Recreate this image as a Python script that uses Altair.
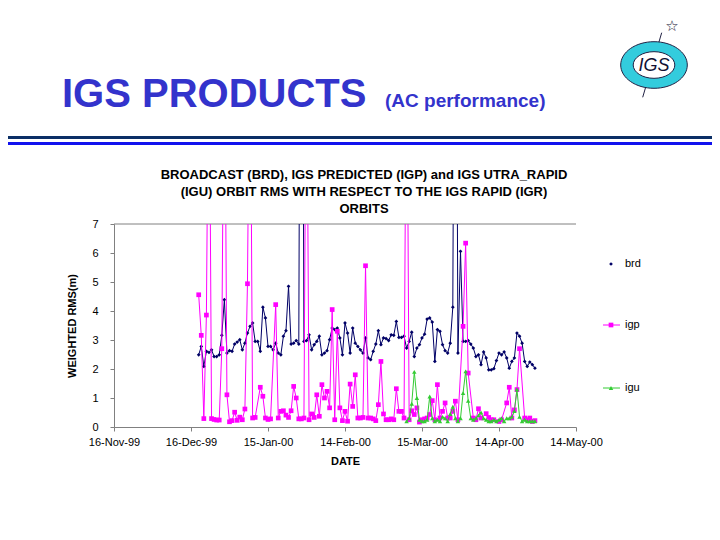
import altair as alt
import pandas as pd

START = "1999-11-16"
END = "2000-05-14"

# ---- data: day offsets from 16-Nov-99 and weighted RMS (m) ----
brd_day = list(range(33, 165))
brd_rms = [2.49, 2.78, 2.09, 2.61, 2.57, 2.66, 2.43, 2.43, 2.49, 3.16,
           4.39, 2.55, 2.63, 2.61, 2.86, 2.93, 3.01, 2.66, 2.89, 3.24,
           3.47, 3.59, 2.95, 2.95, 2.61, 4.13, 3.76, 2.78, 2.78, 2.66,
           2.89, 2.55, 2.49, 3.13, 3.32, 4.85, 2.86, 2.89, 2.98, 2.86,
           30.0, 2.95, 2.98, 3.18, 2.66, 2.84, 2.95, 3.13, 2.49, 2.55,
           2.63, 3.01, 3.41, 3.36, 3.41, 3.07, 2.49, 3.59, 3.24, 2.55,
           3.41, 2.89, 2.78, 2.66, 2.55, 3.07, 2.38, 2.32, 2.61, 2.86,
           3.32, 2.84, 3.07, 3.05, 2.98, 3.18, 3.16, 3.64, 3.09, 3.09,
           3.13, 2.72, 2.95, 3.27, 2.43, 2.72, 2.84, 3.07, 3.20, 3.72,
           3.76, 3.62, 2.26, 3.36, 3.30, 2.84, 2.63, 2.55, 2.89, 4.13,
           25.0, 2.55, 6.06, 2.95, 2.95, 2.98, 2.86, 2.72, 2.43, 2.49,
           2.15, 2.59, 2.38, 1.97, 1.97, 2.01, 2.29, 2.55, 2.49, 2.59,
           2.38, 2.03, 2.26, 2.38, 3.24, 3.13, 2.89, 2.26, 2.09, 2.24,
           2.15, 2.03]

igp_day = [33, 34, 35, 36, 37, 38, 39, 40, 41, 42, 43, 44, 45, 46, 47, 48, 49, 50,
           51, 52, 53, 54, 55, 57, 58, 59, 60, 61, 63, 64, 65, 66, 67, 68, 69, 70,
           71, 72, 73, 74, 75, 76, 77, 78, 79, 80, 81, 82, 83, 84, 85, 86, 87, 88,
           89, 90, 91, 92, 93, 94, 95, 96, 97, 98, 99, 100, 101, 102, 103, 104,
           105, 106, 107, 108, 109, 110, 111, 112, 113, 114, 115, 116, 117, 118,
           119, 120, 121, 122, 123, 124, 125, 126, 127, 128, 129, 130, 131, 132,
           133, 134, 136, 137, 138, 140, 141, 142, 143, 145, 146, 147, 148, 150,
           151, 153, 154, 155, 156, 157, 158, 160, 161, 162, 163, 164]
igp_rms = [4.56, 3.16, 0.29, 3.86, 15.0, 0.29, 0.26, 0.24, 0.24, 2.70, 15.0, 1.11,
           0.18, 0.22, 0.51, 0.23, 0.34, 0.25, 0.62, 4.94, 15.0, 0.31, 0.33, 1.37,
           1.06, 0.31, 0.26, 0.28, 4.22, 0.31, 0.54, 0.56, 0.41, 0.33, 0.56, 1.40,
           1.00, 0.28, 0.28, 0.31, 15.0, 0.25, 0.45, 0.33, 1.11, 0.37, 1.46, 1.00,
           1.23, 0.66, 4.05, 0.25, 3.30, 0.66, 0.22, 0.54, 0.20, 1.48, 0.71, 1.80,
           0.31, 0.31, 0.33, 5.56, 0.31, 0.31, 0.28, 0.22, 0.77, 2.26, 0.45, 0.25,
           0.25, 0.28, 0.25, 1.32, 0.54, 0.54, 0.31, 15.0, 0.25, 0.56, 0.43, 0.66,
           0.17, 0.25, 0.28, 0.31, 0.43, 0.91, 0.25, 1.46, 0.31, 0.54, 0.83, 0.31,
           0.31, 0.54, 0.89, 0.25, 3.47, 6.34, 1.86, 0.31, 0.25, 0.63, 0.31, 0.46,
           0.33, 0.25, 0.25, 0.19, 0.25, 0.83, 1.37, 0.31, 0.59, 1.29, 2.70, 0.31,
           0.25, 0.31, 0.19, 0.22]

igu_day = list(range(114, 165))
igu_rms = [0.20, 0.30, 0.80, 1.90, 1.00, 0.25, 0.20, 0.20, 0.25, 1.05,
           0.30, 0.20, 0.25, 0.20, 0.35, 0.30, 0.20, 0.45, 0.70, 0.30,
           0.20, 0.30, 1.17, 1.92, 0.90, 0.30, 0.25, 0.30, 0.40, 0.50,
           0.30, 0.25, 0.20, 0.20, 0.25, 0.20, 0.25, 0.30, 0.20, 0.30,
           0.30, 0.35, 0.55, 1.30, 0.35, 0.20, 0.25, 0.20, 0.20, 0.20,
           0.20]

x_tick_dates = ["1999-11-16", "1999-12-16", "2000-01-15", "2000-02-14",
                "2000-03-15", "2000-04-14", "2000-05-14"]
y_ticks = [0, 1, 2, 3, 4, 5, 6, 7]

series_names = ["brd", "igp", "igu"]
series_colors = ["#000066", "#FF00FF", "#33CC33"]

chart_title = ["BROADCAST (BRD), IGS PREDICTED (IGP) and IGS UTRA_RAPID",
               "(IGU) ORBIT RMS WITH RESPECT TO THE IGS RAPID (IGR)",
               "ORBITS"]

# ---- helpers ----
def ms(s):
    return int(pd.Timestamp(s, tz="UTC").timestamp() * 1000)

def frame(days, vals):
    d = pd.Timestamp(START) + pd.to_timedelta(days, unit="D")
    return pd.DataFrame({"date": d.strftime("%Y-%m-%d"), "rms": vals})

W, H = 462, 203
FONT = "Liberation Sans"
one = pd.DataFrame({"k": [0]})

x_scale = alt.Scale(type="utc", domain=[ms(START), ms(END)])
y_scale = alt.Scale(domain=[0, 7], nice=False)

x_axis = alt.Axis(values=[ms(s) for s in x_tick_dates],
                  labelExpr="utcFormat(datum.value, '%d-%b-%y')",
                  title="DATE", labelPadding=5, titlePadding=8,
                  tickSize=4, labelFlush=False, labelOverlap=False)
y_axis = alt.Axis(values=y_ticks, title="WEIGHTED RMS(m)",
                  tickSize=4, labelPadding=12, titlePadding=14)
x_enc = alt.X("date:T", scale=x_scale, axis=x_axis)
y_enc = alt.Y("rms:Q", scale=y_scale, axis=y_axis)


def series(days, vals, color, shape, size):
    df = frame(days, vals)
    base = alt.Chart(df)
    line = base.mark_line(color=color, strokeWidth=1, clip=True).encode(x=x_enc, y=y_enc)
    pts = base.mark_point(shape=shape, filled=True, color=color, size=size,
                          opacity=1, clip=True).encode(x=x_enc, y=y_enc)
    return [line, pts]


top_rule = alt.Chart(pd.DataFrame({"rms": [7]})).mark_rule(
    color="#808080", strokeWidth=1).encode(y=y_enc)

layers = [top_rule]
layers += series(brd_day, brd_rms, series_colors[0], "diamond", 14)
layers += series(igp_day, igp_rms, series_colors[1], "square", 22)
layers += series(igu_day, igu_rms, series_colors[2], "triangle-up", 20)


def text(x, y, s, size, weight="normal", color="black", align="left",
         baseline="alphabetic", font=FONT, style="normal", angle=0):
    return alt.Chart(one).mark_text(
        text=s, fontSize=size, fontWeight=weight, color=color, align=align,
        baseline=baseline, font=font, fontStyle=style, angle=angle
    ).encode(x=alt.value(x), y=alt.value(y))


def hline(x1, x2, y, color, width):
    return alt.Chart(one).mark_rule(color=color, strokeWidth=width).encode(
        x=alt.value(x1), x2=alt.value(x2), y=alt.value(y))

# chart title (three lines)
for i, line_txt in enumerate(chart_title):
    layers.append(text(250, -49 + 17 * i, line_txt, 13, "bold", align="center",
                       baseline="middle"))

# legend
legend_y = [40, 101, 164]
for name, color, shape, size, ly in zip(series_names, series_colors,
                                        ["diamond", "square", "triangle-up"],
                                        [14, 22, 20], legend_y):
    if name != "brd":
        layers.append(hline(489, 506, ly, color, 1))
    layers.append(alt.Chart(one).mark_point(shape=shape, filled=True, color=color,
                                            size=size, opacity=1).encode(
        x=alt.value(497), y=alt.value(ly)))
    layers.append(text(511, ly, name, 11, baseline="middle"))

# slide header
layers.append(text(-52, -117, "IGS PRODUCTS", 40, "bold", color="#3333CC"))
layers.append(text(271, -117, "(AC performance)", 19, "bold", color="#3333CC"))
layers.append(hline(-106, 598, -86.5, "#0B2F66", 3))
layers.append(hline(-106, 598, -80.5, "#1111EE", 3))

# logo
layers.append(alt.Chart(one).mark_rule(color="#222244", strokeWidth=1).encode(
    x=alt.value(528.7), y=alt.value(-126.7), x2=alt.value(547.7), y2=alt.value(-191.3)))
ellipse = "M -1 0 A 1 0.7 0 1 1 1 0 A 1 0.7 0 1 1 -1 0 Z"
ellipse_in = "M -1 0 A 1 0.64 0 1 1 1 0 A 1 0.64 0 1 1 -1 0 Z"
layers.append(alt.Chart(one).mark_point(shape=ellipse, filled=True, fill="#33CCDD",
                                        stroke="#222244", strokeWidth=1, size=4436,
                                        opacity=1).encode(
    x=alt.value(540), y=alt.value(-159)))
layers.append(alt.Chart(one).mark_point(shape=ellipse_in, filled=True, fill="white",
                                        stroke="#222244", strokeWidth=1, size=1731,
                                        opacity=1).encode(
    x=alt.value(540), y=alt.value(-159)))
layers.append(text(540, -158, "IGS", 18, "normal", color="#111133", align="center",
                   baseline="middle", style="italic"))
layers.append(text(558, -198, "\u2606", 15, "normal", color="#111133", align="center",
                   baseline="middle", font="DejaVu Sans"))

chart = alt.layer(*layers).properties(
    width=W, height=H,
    autosize=alt.AutoSizeParams(type="none"),
    padding={"left": 106, "top": 216, "right": 136, "bottom": 100},
    background="white",
).configure_view(stroke=None).configure_axis(
    labelFont=FONT, titleFont=FONT, labelFontSize=11, titleFontSize=11,
    titleFontWeight="bold", labelColor="black", titleColor="black",
    domainColor="#808080", tickColor="#808080", grid=False,
)

chart.save("out.html", embed_options={"renderer": "svg", "actions": False})
